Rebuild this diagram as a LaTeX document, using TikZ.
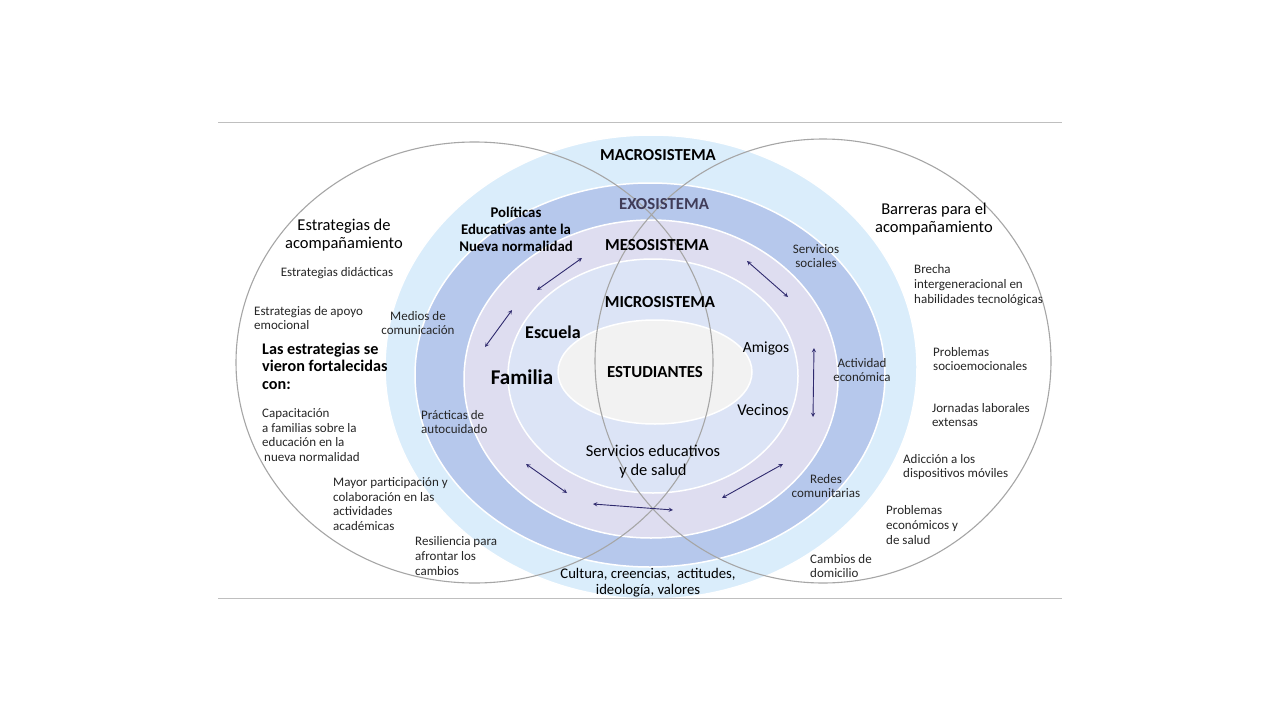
\documentclass[tikz,border=0pt]{standalone}
\usepackage{fontspec}
\setmainfont{Carlito}
\usepackage{xcolor}
\usepackage{tikz}
\usetikzlibrary{arrows}
\definecolor{macroc}{RGB}{218,237,251}
\definecolor{exoc}{RGB}{182,200,236}
\definecolor{mesoc}{RGB}{222,221,240}
\definecolor{microc}{RGB}{220,228,246}
\definecolor{estudc}{RGB}{242,242,242}
\definecolor{gris}{RGB}{166,166,166}
\definecolor{regla}{RGB}{191,191,191}
\definecolor{azul}{RGB}{47,42,110}
\definecolor{exotxt}{RGB}{64,60,88}
\definecolor{gristxt}{RGB}{38,38,38}

\begin{document}
\begin{tikzpicture}[x=1pt,y=-1pt,inner sep=0pt,
  ring/.style={draw=white,line width=1.5pt},
  venn/.style={draw=gris,line width=1.1pt},
  tit/.style={font=\bfseries\fontsize{16.8}{19}\selectfont},
  head/.style={font=\fontsize{16.5}{18.5}\selectfont,align=center},
  txt/.style={font=\fontsize{13}{14.8}\selectfont,text=gristxt,align=left},
  flecha/.style={stealth-stealth,draw=azul,line width=0.9pt}]
\useasboundingbox (0,0) rectangle (1280,720);
\fill[white] (0,0) rectangle (1280,720);

% rings
\path[ring,fill=macroc] (651,367) ellipse [x radius=266pt,y radius=232pt];
\path[ring,fill=exoc] (650,375) ellipse [x radius=235pt,y radius=192pt];
\path[ring,fill=mesoc] (651,379) ellipse [x radius=187pt,y radius=159pt];
\path[ring,fill=microc] (653,376) ellipse [x radius=145pt,y radius=117pt];
\path[ring,fill=estudc] (655,372) ellipse [x radius=97pt,y radius=52pt];

% rules and the two big circles
\draw[regla,line width=1pt] (218,122) -- (1062,122);
\draw[regla,line width=1pt] (218,598) -- (1062,598);
\draw[venn] (474.5,362.5) ellipse [x radius=238.5pt,y radius=220.5pt];
\draw[venn] (823,361) ellipse [x radius=228pt,y radius=222pt];

% systems
\node[tit] (macro) at (658,155) {MACROSISTEMA};
\node[tit,text=exotxt] (exo) at (664,204) {EXOSISTEMA};
\node[tit] (meso) at (657,245) {MESOSISTEMA};
\node[tit] (micro) at (660,302) {MICROSISTEMA};
\node[tit] (estud) at (655,372) {ESTUDIANTES};

\node[font=\bfseries\fontsize{18}{20}\selectfont] (escuela) at (553,332) {Escuela};
\node[font=\bfseries\fontsize{21}{24}\selectfont] (familia) at (522,377) {Familia};
\node[font=\fontsize{15.5}{18}\selectfont] (amigos) at (766,348) {Amigos};
\node[font=\fontsize{16.5}{18}\selectfont] (vecinos) at (763,410) {Vecinos};
\node[font=\fontsize{16.5}{19}\selectfont,align=center] (servicios) at (653,462) {Servicios educativos\\y de salud};
\node[font=\bfseries\fontsize{14.8}{17}\selectfont,align=center] (politicas) at (516,229) {Políticas\\Educativas ante la\\Nueva normalidad};
\node[txt,align=center] (medios) at (418,323) {Medios de\\comunicación};
\node[txt,anchor=west] (practicas) at (421,422) {Prácticas de\\autocuidado};
\node[txt,align=center] (sociales) at (816,256) {Servicios\\sociales};
\node[txt,align=center] (actividad) at (862,370) {Actividad\\económica};
\node[txt,align=center] (redes) at (826,486) {Redes\\comunitarias};
\node[font=\fontsize{14.7}{16}\selectfont,align=center] (cultura) at (648,583) {Cultura, creencias,\ \ actitudes,\\ideología, valores};

% left circle
\node[head] (estrategias) at (344,235) {Estrategias de\\acompañamiento};
\node[txt] (didacticas) at (337,273) {Estrategias didácticas};
\node[txt,anchor=west] (apoyo) at (254,318) {Estrategias de apoyo\\emocional};
\node[font=\bfseries\fontsize{16.2}{17.5}\selectfont,align=left,anchor=west] (fortalecidas) at (262,366) {Las estrategias se\\vieron fortalecidas\\con:};
\node[txt,anchor=west] (capacitacion) at (262,435) {Capacitación\\a familias sobre la\\educación en la\\\hspace{2pt}nueva normalidad};
\node[txt,anchor=west] (participacion) at (333,504) {Mayor participación y\\colaboración en las\\actividades\\académicas};
\node[txt,anchor=west] (resiliencia) at (415,556) {Resiliencia para\\afrontar los\\cambios};

% right circle
\node[head] (barreras) at (934,219) {Barreras para el\\acompañamiento};
\node[txt,anchor=west] (brecha) at (914,285) {Brecha\\intergeneracional en\\habilidades tecnológicas};
\node[txt,anchor=west] (socioemo) at (933,359) {Problemas\\socioemocionales};
\node[txt,anchor=west] (jornadas) at (932,415) {Jornadas laborales\\extensas};
\node[txt,anchor=west] (adiccion) at (903,467) {Adicción a los\\dispositivos móviles};
\node[txt,anchor=west] (economicos) at (886,525) {Problemas\\económicos y\\de salud};
\node[txt,anchor=west] (domicilio) at (810,566) {Cambios de\\domicilio};

% arrows
\coordinate (p1) at (537,290);
\coordinate (p2) at (582,258);
\coordinate (p3) at (485,347);
\coordinate (p4) at (512,310);
\coordinate (p5) at (747,261);
\coordinate (p6) at (788,297);
\coordinate (p7) at (814,348);
\coordinate (p8) at (813,417);
\coordinate (p9) at (783,464);
\coordinate (p10) at (722,498);
\coordinate (p11) at (593,504);
\coordinate (p12) at (673,510);
\coordinate (p13) at (526,464);
\coordinate (p14) at (567,493);

\path (p1) edge [flecha] (p2)
  (p3) edge [flecha] (p4)
  (p5) edge [flecha] (p6)
  (p7) edge [flecha] (p8)
  (p9) edge [flecha] (p10)
  (p11) edge [flecha] (p12)
  (p13) edge [flecha] (p14);
\end{tikzpicture}
\end{document}
